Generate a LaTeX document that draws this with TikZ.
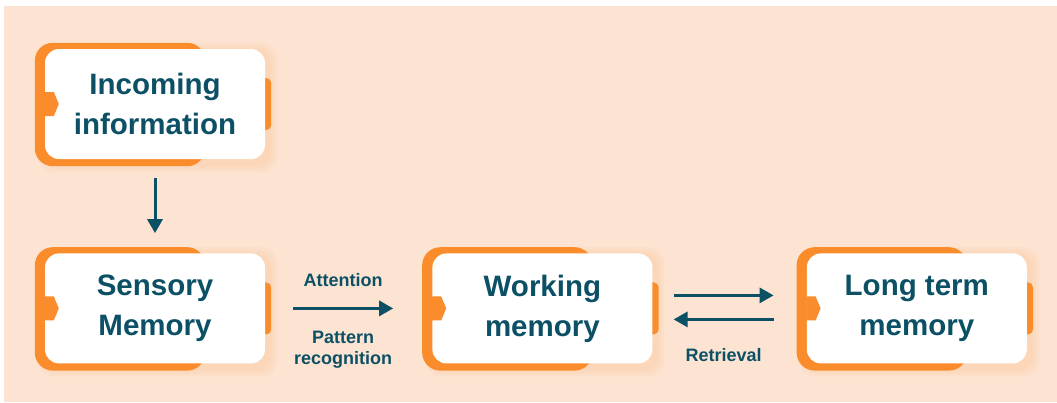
\documentclass[tikz,border=0pt]{standalone}
\usepackage{fontspec}
\setmainfont{Liberation Sans}
\usepackage{xcolor}
\usepackage{tikz}
\usetikzlibrary{positioning,arrows.meta,backgrounds}

\definecolor{peach}{RGB}{253,228,210}
\definecolor{memorange}{RGB}{251,140,44}
\definecolor{inkteal}{RGB}{12,80,102}

\begin{document}
\begin{tikzpicture}[
  x=1pt, y=1pt,
  node distance=94pt and 167pt,
  membox/.style={rectangle, fill=white, rounded corners=14pt, align=center, text=inkteal, font=\fontsize{29.5}{40}\selectfont\bfseries, minimum width=220pt, minimum height=110pt, inner sep=2pt},
  tag/.style={align=center, text=inkteal, font=\fontsize{18}{21.5}\selectfont\bfseries, inner sep=0pt},
  flow/.style={-{Triangle[length=14pt,width=15pt]}, line width=3pt, draw=inkteal}
]
  \useasboundingbox (0,0) rectangle (1057,-402);

  % Nodes
  \node[membox] (in) at (155,-104) {Incoming\\information};
  \node[membox, below=of in] (sens) {Sensory\\Memory};
  \node[membox, right=of sens] (work) {Working\\memory};
  \node[membox, right=154pt of work] (long) {Long term\\memory};

  % Frames behind the boxes
  \begin{pgfonlayer}{background}
    \fill[peach] (4,-6) rectangle (1057,-402);
    \foreach \n in {in,sens,work,long} {
      \foreach \r in {3,6,9}
        \fill[memorange, opacity=0.05, rounded corners=16pt] ([shift={(-\r+2,\r-3)}]\n.north west) rectangle ([shift={(\r+3,-\r-4)}]\n.south east);
      \fill[memorange, rounded corners=18pt] ([shift={(-10,6)}]\n.north west) rectangle ([shift={(-60,-7)}]\n.south east);
      \fill[memorange, rounded corners=5pt] ([shift={(-8,26)}]\n.east) rectangle ([shift={(6,-26)}]\n.east);
    }
  \end{pgfonlayer}

  % Notches
  \foreach \n in {in,sens,work,long}
    \fill[memorange] ([yshift=12pt]\n.west) -- ++(9,0) -- ++(5,-12) -- ++(-5,-12) -- ++(-9,0) -- cycle;

  % Arrows
  \draw[flow, shorten <=19pt, shorten >=20pt] (in) -- (sens);
  \draw[flow, shorten <=28pt, shorten >=39pt] (sens) -- node[tag, pos=0.467, above=20pt] {Attention} node[tag, pos=0.467, below=21pt] {Pattern\\recognition} (work);
  \draw[flow, shorten <=21pt, shorten >=33pt] ([yshift=13pt]work.east) -- ([yshift=13pt]long.west);
  \draw[flow, shorten <=33pt, shorten >=21pt] ([yshift=-11pt]long.west) -- node[tag, pos=0.539, below=28pt] {Retrieval} ([yshift=-11pt]work.east);
\end{tikzpicture}
\end{document}
